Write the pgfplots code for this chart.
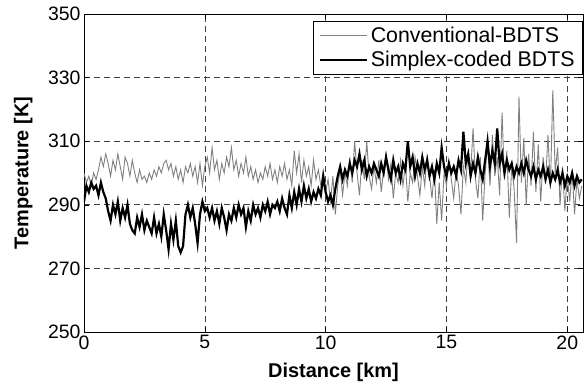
\documentclass[border=0pt]{standalone}
\usepackage{pgfplots}
\pgfplotsset{compat=1.18}
\usepackage{fontspec}
\setmainfont{Liberation Sans}
\pgfplotstableread{
x y
0.0 300
0.1 297
0.2 299
0.3 296
0.4 300
0.5 298
0.6 301
0.7 305
0.8 302
0.9 306
1.0 303
1.1 299
1.2 304
1.3 301
1.4 306
1.5 302
1.6 298
1.7 305
1.8 303
1.9 299
2.0 304
2.1 300
2.2 297
2.3 301
2.4 298
2.5 299
2.6 297
2.7 300
2.8 298
2.9 301
3.0 299
3.1 302
3.2 300
3.3 303
3.4 304
3.5 301
3.6 303
3.7 299
3.8 302
3.9 298
4.0 301
4.1 297
4.2 302
4.3 300
4.4 303
4.5 299
4.6 302
4.7 297
4.8 303
4.9 296
5.0 302
5.1 305
5.2 300
5.3 308
5.4 301
5.5 304
5.6 298
5.7 303
5.8 300
5.9 305
6.0 302
6.1 308
6.2 301
6.3 304
6.4 299
6.5 303
6.6 300
6.7 305
6.8 299
6.9 302
7.0 298
7.1 301
7.2 297
7.3 300
7.4 298
7.5 302
7.6 299
7.7 303
7.8 298
7.9 301
8.0 297
8.1 302
8.2 299
8.3 303
8.4 298
8.5 301
8.6 296
8.7 307
8.8 300
8.9 306
9.0 297
9.1 304
9.2 299
9.3 302
9.4 296
9.5 304
9.6 298
9.7 301
9.8 296
9.9 300
10.0 294
10.1 298
10.2 291
10.3 299
10.4 287
10.5 296
10.6 301
10.7 293
10.8 300
10.9 296
11.0 305
11.1 297
11.2 310
11.3 300
11.4 293
11.5 304
11.6 298
11.7 310
11.8 299
11.9 295
12.0 302
12.1 297
12.2 304
12.3 294
12.4 301
12.5 306
12.6 298
12.7 303
12.8 292
12.9 300
13.0 297
13.1 304
13.2 296
13.3 303
13.4 291
13.5 300
13.6 297
13.7 305
13.8 299
13.9 293
14.0 302
14.1 296
14.2 306
14.3 299
14.4 292
14.5 301
14.6 284
14.7 297
14.8 285
14.9 300
15.0 296
15.1 304
15.2 298
15.3 292
15.4 301
15.5 296
15.6 287
15.7 302
15.8 297
15.9 307
16.0 300
16.1 314
16.2 298
16.3 292
16.4 305
16.5 285
16.6 300
16.7 309
16.8 296
16.9 312
17.0 299
17.1 305
17.2 293
17.3 319
17.4 298
17.5 307
17.6 286
17.7 302
17.8 295
17.9 278
18.0 324
18.1 297
18.2 311
18.3 290
18.4 306
18.5 296
18.6 313
18.7 294
18.8 309
18.9 291
19.0 305
19.1 297
19.2 312
19.3 295
19.4 326
19.5 300
19.6 308
19.7 290
19.8 302
19.9 288
20.0 299
20.1 291
20.2 301
20.3 287
20.4 298
20.5 292
20.6 296
}\conv
\pgfplotstableread{
x y
0.0 291
0.1 296
0.2 294
0.3 297
0.4 295
0.5 296
0.6 293
0.7 297
0.8 294
0.9 292
1.0 288
1.1 285
1.2 290
1.3 287
1.4 291
1.5 285
1.6 289
1.7 286
1.8 290
1.9 284
2.0 282
2.1 281
2.2 286
2.3 283
2.4 287
2.5 282
2.6 285
2.7 283
2.8 281
2.9 286
3.0 281
3.1 284
3.2 280
3.3 287
3.4 282
3.5 276
3.6 284
3.7 279
3.8 285
3.9 277
4.0 275
4.1 277
4.2 287
4.3 290
4.4 286
4.5 289
4.6 284
4.7 278
4.8 287
4.9 291
5.0 288
5.1 289
5.2 286
5.3 289
5.4 285
5.5 288
5.6 284
5.7 289
5.8 286
5.9 282
6.0 287
6.1 285
6.2 289
6.3 286
6.4 290
6.5 287
6.6 289
6.7 283
6.8 288
6.9 285
7.0 290
7.1 287
7.2 289
7.3 286
7.4 290
7.5 288
7.6 291
7.7 287
7.8 290
7.9 289
8.0 291
8.1 288
8.2 292
8.3 289
8.4 287
8.5 293
8.6 289
8.7 294
8.8 290
8.9 295
9.0 291
9.1 296
9.2 292
9.3 295
9.4 291
9.5 294
9.6 292
9.7 295
9.8 293
9.9 299
10.0 294
10.1 291
10.2 293
10.3 290
10.4 295
10.5 299
10.6 302
10.7 298
10.8 301
10.9 299
11.0 303
11.1 300
11.2 304
11.3 302
11.4 306
11.5 301
11.6 304
11.7 299
11.8 302
11.9 300
12.0 303
12.1 301
12.2 299
12.3 303
12.4 300
12.5 305
12.6 301
12.7 298
12.8 304
12.9 300
13.0 302
13.1 298
13.2 303
13.3 301
13.4 310
13.5 302
13.6 305
13.7 299
13.8 303
13.9 300
14.0 305
14.1 301
14.2 304
14.3 299
14.4 302
14.5 298
14.6 303
14.7 300
14.8 308
14.9 302
15.0 299
15.1 303
15.2 300
15.3 302
15.4 299
15.5 304
15.6 301
15.7 313
15.8 303
15.9 306
16.0 299
16.1 303
16.2 300
16.3 305
16.4 301
16.5 298
16.6 304
16.7 310
16.8 302
16.9 307
17.0 303
17.1 314
17.2 303
17.3 306
17.4 300
17.5 304
17.6 301
17.7 303
17.8 299
17.9 302
18.0 300
18.1 303
18.2 300
18.3 304
18.4 301
18.5 299
18.6 302
18.7 298
18.8 301
18.9 299
19.0 302
19.1 298
19.2 301
19.3 297
19.4 300
19.5 298
19.6 301
19.7 297
19.8 300
19.9 296
20.0 299
20.1 297
20.2 300
20.3 296
20.4 299
20.5 297
20.6 298
}\simplex
\begin{document}
\begin{tikzpicture}
\begin{axis}[
  at={(0,0)}, anchor=south west,
  scale only axis,
  width=499bp, height=318bp,
  xmin=0, xmax=20.65, ymin=250, ymax=350,
  xtick={0,5,10,15,20}, ytick={250,270,...,350},
  tick align=inside, major tick length=5bp,
  tick style={black, line width=0.5bp},
  axis line style={black, line width=0.8bp},
  grid=major,
  major grid style={dash pattern=on 6bp off 4bp, black!75, line width=0.6bp},
  /pgf/number format/assume math mode=true,
  ticklabel style={font=\fontsize{19.5}{23}\selectfont},
  xlabel={\textbf{Distance [km]}},
  ylabel={\textbf{Temperature [K]}},
  label style={font=\fontsize{20}{24}\selectfont},
  xlabel style={at={(axis description cs:0.5,-0.126)}, anchor=center},
  ylabel style={at={(axis description cs:-0.122,0.5)}, anchor=center, rotate=0},
  legend style={at={(rel axis cs:1,0.978)}, anchor=north east, draw=black,
    line width=0.8bp, font=\fontsize{21.4}{26}\selectfont,
    inner xsep=5bp, inner ysep=4bp, row sep=3bp,
    nodes={inner xsep=3bp}},
  legend cell align=left,
  legend image code/.code={\draw[#1] (0bp,0bp) -- (47bp,0bp);},
]
\addplot[color=black!50, line width=0.9bp] table[x=x,y=y] {\conv};
\addlegendentry{Conventional-BDTS}
\addplot[color=black, line width=2.2bp] table[x=x,y=y] {\simplex};
\addlegendentry{Simplex-coded BDTS}
\end{axis}
\pgfresetboundingbox
\path[use as bounding box] (-84bp,-53bp) rectangle (500bp,332bp);
\end{tikzpicture}
\end{document}
